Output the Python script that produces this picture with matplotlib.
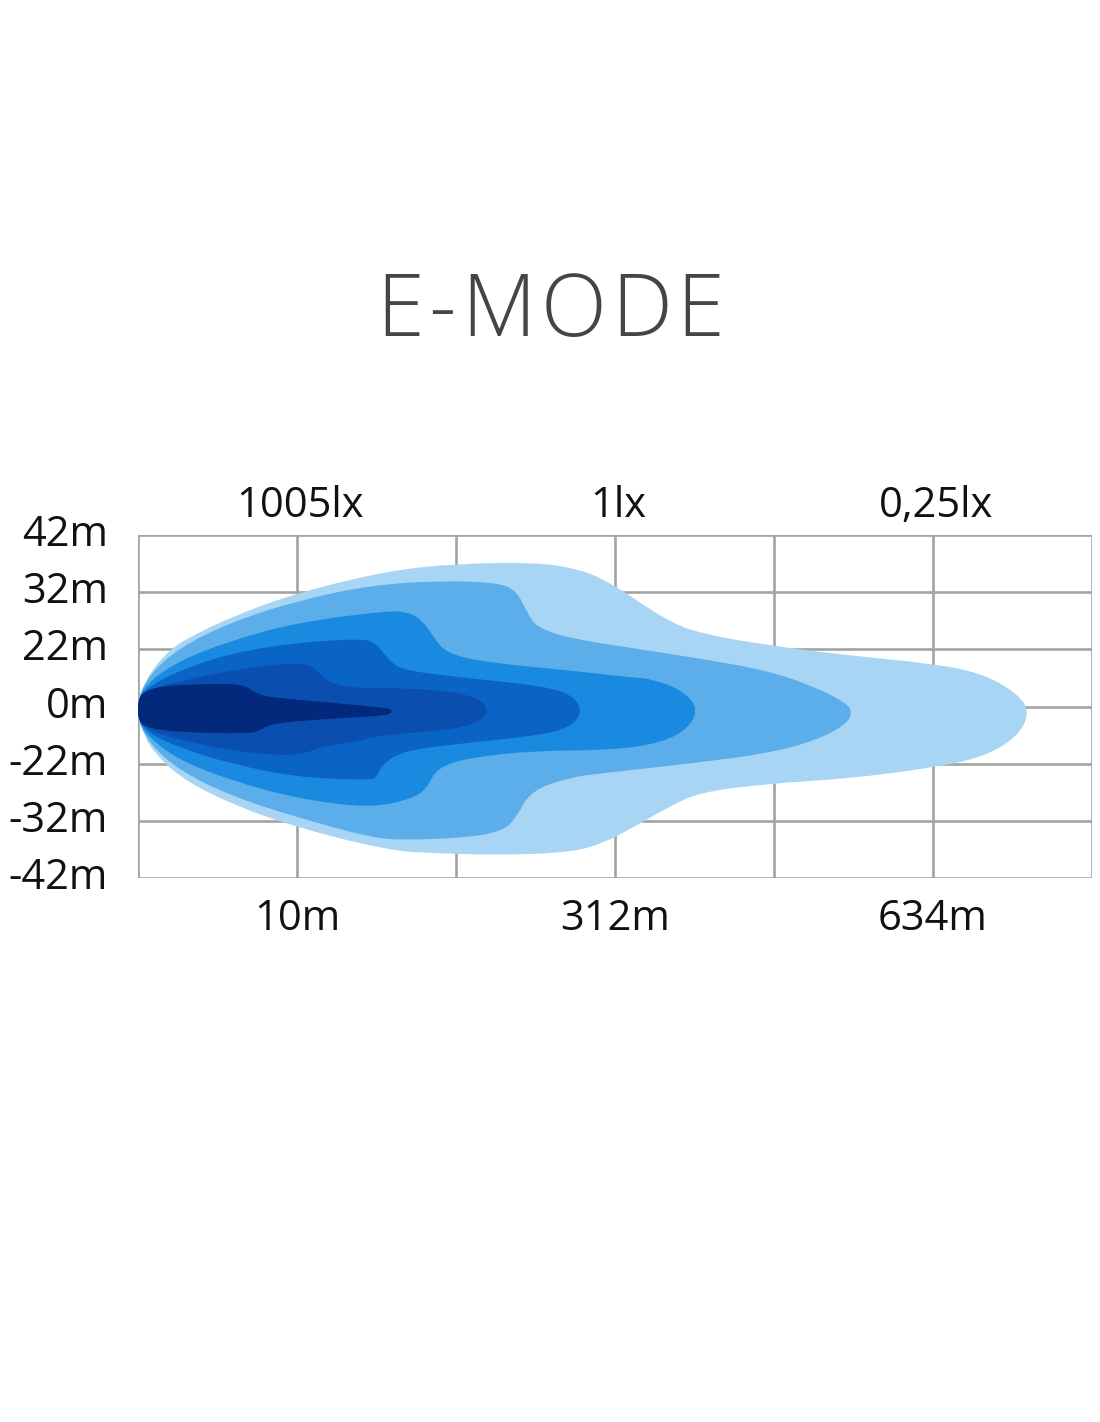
import matplotlib
matplotlib.use("Agg")
import matplotlib.pyplot as plt
from matplotlib.path import Path
from matplotlib.patches import PathPatch

# ---------------- data ----------------
title = "E-MODE"
y_tick_labels = ["-42m", "-32m", "-22m", "0m", "22m", "32m", "42m"]
x_bottom_labels = ["10m", "312m", "634m"]
x_top_labels = ["1005lx", "1lx", "0,25lx"]
label_columns = [1, 3, 5]

# isolux outlines (x in grid columns 0..6, y in grid rows -3..3), outer -> inner
lux1_upper = [(0, 0.15), (0.04, 0.36), (0.075, 0.59), (0.20, 1.00), (0.33, 1.22), (0.58, 1.56),
              (1.00, 1.99), (1.58, 2.38), (2.01, 2.50), (2.51, 2.52), (2.76, 2.41), (2.92, 2.24),
              (3.11, 1.91), (3.33, 1.50), (3.53, 1.28), (3.96, 1.07), (4.48, 0.89), (5.00, 0.75),
              (5.31, 0.58), (5.53, 0.23), (5.61, -0.10)]
lux1_lower = [(5.53, -0.54), (5.31, -0.89), (5.00, -1.07), (4.48, -1.26), (3.96, -1.35),
              (3.53, -1.50), (3.33, -1.77), (3.11, -2.12), (2.92, -2.40), (2.72, -2.55),
              (2.30, -2.60), (1.88, -2.57), (1.58, -2.52), (1.00, -2.12), (0.58, -1.70),
              (0.26, -1.24), (0.075, -0.72), (0.04, -0.46), (0, -0.25)]

lux2_upper = [(0, 0.15), (0.075, 0.57), (0.26, 1.03), (0.58, 1.47), (1.00, 1.85), (1.46, 2.12),
              (1.88, 2.20), (2.26, 2.17), (2.38, 2.03), (2.45, 1.63), (2.51, 1.38), (2.72, 1.19),
              (3.09, 1.03), (3.53, 0.84), (3.96, 0.63), (4.27, 0.33), (4.46, 0.05), (4.49, -0.10)]
lux2_lower = [(4.46, -0.30), (4.27, -0.59), (3.96, -0.82), (3.53, -0.98), (2.91, -1.17),
              (2.72, -1.24), (2.47, -1.47), (2.38, -1.94), (2.30, -2.17), (2.09, -2.29),
              (1.67, -2.34), (1.46, -2.29), (1.00, -1.94), (0.58, -1.56), (0.26, -1.12),
              (0.075, -0.66), (0, -0.25)]

lux3_upper = [(0, 0.15), (0.075, 0.45), (0.26, 0.80), (0.58, 1.15), (1.00, 1.47), (1.58, 1.68),
              (1.71, 1.64), (1.79, 1.50), (1.86, 1.21), (1.94, 0.93), (2.19, 0.77), (2.72, 0.63),
              (3.09, 0.51), (3.22, 0.49), (3.43, 0.28), (3.53, -0.07)]
lux3_lower = [(3.43, -0.47), (3.22, -0.68), (2.91, -0.77), (2.51, -0.77), (2.09, -0.89),
              (1.88, -1.07), (1.82, -1.42), (1.73, -1.61), (1.46, -1.78), (1.00, -1.61),
              (0.58, -1.29), (0.26, -0.94), (0.075, -0.56), (0, -0.25)]

lux4_upper = [(0, 0.15), (0.075, 0.36), (0.26, 0.63), (0.58, 0.93), (1.00, 1.12), (1.42, 1.19),
              (1.50, 1.10), (1.58, 0.80), (1.67, 0.63), (2.09, 0.49), (2.51, 0.37), (2.72, 0.23),
              (2.80, -0.07)]
lux4_lower = [(2.72, -0.37), (2.51, -0.51), (2.09, -0.63), (1.67, -0.77), (1.54, -1.00),
              (1.50, -1.24), (1.46, -1.29), (1.00, -1.24), (0.58, -1.00), (0.26, -0.72),
              (0.075, -0.48), (0, -0.25)]

lux5_upper = [(0, 0.15), (0.075, 0.30), (0.26, 0.44), (0.58, 0.63), (0.89, 0.75), (1.08, 0.75),
              (1.14, 0.58), (1.21, 0.40), (1.42, 0.31), (1.67, 0.33), (2.09, 0.23), (2.23, -0.07)]
lux5_lower = [(2.09, -0.37), (1.67, -0.47), (1.46, -0.54), (1.42, -0.59), (1.13, -0.72),
              (1.06, -0.82), (0.89, -0.86), (0.58, -0.77), (0.26, -0.58), (0.075, -0.42),
              (0, -0.25)]

lux6_upper = [(0, 0.15), (0.05, 0.28), (0.16, 0.36), (0.37, 0.39), (0.66, 0.40), (0.74, 0.23),
              (0.83, 0.16), (1.21, 0.07), (1.58, -0.03), (1.60, -0.07)]
lux6_lower = [(1.58, -0.16), (1.21, -0.21), (0.83, -0.30), (0.75, -0.45), (0.66, -0.47),
              (0.37, -0.46), (0.16, -0.42), (0.05, -0.36), (0, -0.25)]

layer_colors = ["#a9d5f4", "#5caeea", "#1a8ae0", "#0a64c5", "#0a4fb0", "#03297c"]
layers = [(lux1_upper, lux1_lower), (lux2_upper, lux2_lower), (lux3_upper, lux3_lower),
          (lux4_upper, lux4_lower), (lux5_upper, lux5_lower), (lux6_upper, lux6_lower)]

# ---------------- figure ----------------
W, H = 1100, 1422
fig = plt.figure(figsize=(W / 100, H / 100), dpi=100)
fig.patch.set_facecolor("white")
ax = fig.add_axes([138 / W, 1 - 878 / H, (1092 - 138) / W, (878 - 535) / H])
ax.set_xlim(0, 6)
ax.set_ylim(-3, 3)

grid_color = "#a3a3a3"
for x in range(0, 7):
    ax.axvline(x, color=grid_color, lw=1.9, zorder=1)
for y in range(-3, 4):
    ax.axhline(y, color=grid_color, lw=1.9, zorder=1)
for s in ax.spines.values():
    s.set_visible(False)
ax.set_xticks([])
ax.set_yticks([])


def smooth_closed(points):
    # quadratic B-spline style closed path: control points = data points, on-curve = midpoints
    n = len(points)
    mids = [((points[i][0] + points[(i + 1) % n][0]) / 2,
             (points[i][1] + points[(i + 1) % n][1]) / 2) for i in range(n)]
    verts = [mids[-1]]
    codes = [Path.MOVETO]
    for i in range(n):
        verts += [points[i], mids[i]]
        codes += [Path.CURVE3, Path.CURVE3]
    verts.append(mids[-1])
    codes.append(Path.CLOSEPOLY)
    return Path(verts, codes)


for (up, lo), col in zip(layers, layer_colors):
    pts = list(up) + list(lo)
    ax.add_patch(PathPatch(smooth_closed(pts), facecolor=col, edgecolor="none", zorder=2))

font = ["Open Sans", "DejaVu Sans"]
tick_font = 30
for i, lab in enumerate(y_tick_labels):
    ax.text(-0.19, i - 3 + 0.0, lab, ha="right", va="center", fontsize=tick_font,
            family=font, color="#111111", clip_on=False)
for c, lab in zip(label_columns, x_bottom_labels):
    ax.text(c + 0.0, -3.72, lab, ha="center", va="center", fontsize=tick_font,
            family=font, color="#111111", clip_on=False)
for c, lab in zip(label_columns, x_top_labels):
    ax.text(c + 0.02, 3.5, lab, ha="center", va="center", fontsize=tick_font,
            family=font, color="#111111", clip_on=False)

# title with letter spacing
fig.canvas.draw()
renderer = fig.canvas.get_renderer()
title_size = 62
chars = []
widths = []
for ch in title:
    t = fig.text(0, 0, ch, fontsize=title_size, family=font, color="#454545",
                 fontweight="light", ha="left", va="baseline")
    bb = t.get_window_extent(renderer)
    chars.append(t)
    widths.append(bb.width)
left_px, right_px = 376, 724
tracking = max(2.0, (right_px - left_px - sum(widths)) / (len(title) - 1))
xpos = left_px
for t, w in zip(chars, widths):
    t.set_position((xpos / W, 1 - 336 / H))
    xpos += w + tracking

fig.savefig("out.png", dpi=100, facecolor="white")
